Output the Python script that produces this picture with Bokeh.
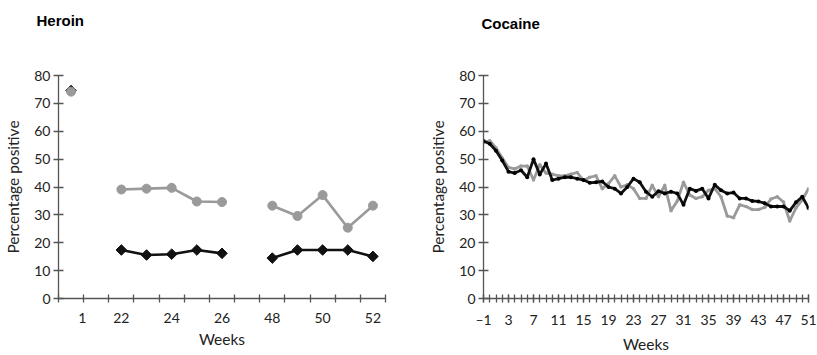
from bokeh.plotting import figure
from bokeh.layouts import row
from bokeh.models import Range1d, FixedTicker, Title
from bokeh.embed import file_html
from bokeh.resources import INLINE

# ---------------- data ----------------
# Heroin panel: x slots (None = empty slot on the axis)
heroin_slots = [1, None, 22, 23, 24, 25, 26, None, 48, 49, 50, 51, 52]
heroin_weeks = [1, 22, 23, 24, 25, 26, 48, 49, 50, 51, 52]
heroin_gray = [74.2, 39.1, 39.4, 39.7, 34.8, 34.6, 33.3, 29.6, 37.1, 25.4, 33.3]
heroin_black = [74.6, 17.4, 15.6, 15.9, 17.4, 16.2, 14.5, 17.4, 17.4, 17.4, 15.1]
heroin_label_weeks = [1, 22, 24, 26, 48, 50, 52]

# Cocaine panel
cocaine_weeks = list(range(-1, 52))
cocaine_black = [56.5, 55.5, 53.0, 49.5, 45.5, 45.0, 46.0, 43.5, 50.0, 44.5,
                 48.4, 42.5, 43.0, 43.5, 43.5, 43.0, 42.5, 41.5, 41.7, 42.0,
                 40.0, 39.4, 37.7, 40.0, 43.0, 41.7, 38.3, 36.5, 38.5, 37.7,
                 38.3, 37.7, 33.6, 39.4, 38.6, 39.4, 35.9, 40.8, 38.8, 37.7,
                 38.0, 35.9, 35.9, 35.0, 34.8, 34.2, 33.0, 33.0, 33.0, 31.5,
                 34.5, 36.5, 32.5]
cocaine_gray = [55.9, 56.6, 54.0, 50.4, 47.0, 46.5, 47.5, 47.5, 42.5, 48.0,
                45.0, 44.6, 44.0, 44.0, 44.6, 45.2, 42.3, 43.5, 44.0, 39.4,
                41.2, 44.0, 40.0, 40.8, 39.4, 35.9, 35.9, 40.6, 36.5, 40.6,
                31.5, 35.0, 41.7, 37.1, 35.9, 36.5, 38.8, 39.4, 36.5, 29.6,
                29.0, 33.6, 33.0, 31.9, 31.9, 32.7, 35.7, 36.5, 34.6, 27.8,
                32.5, 35.4, 39.4]
cocaine_label_weeks = list(range(-1, 52, 4))

y_ticks = list(range(0, 81, 10))

TICK_FONT = "Lato"
AXIS_COLOR = "#555555"
TEXT_COLOR = "#222222"
BLACK = "#111111"
GRAY = "#9a9a9a"


def style_axes(p):
    for ax in (p.xaxis[0], p.yaxis[0]):
        ax.axis_line_color = AXIS_COLOR
        ax.axis_line_width = 1.3
        ax.major_tick_line_color = AXIS_COLOR
        ax.minor_tick_line_color = AXIS_COLOR
        ax.major_tick_line_width = 1.3
        ax.minor_tick_line_width = 1.3
        ax.major_label_text_font = TICK_FONT
        ax.major_label_text_font_size = "14px"
        ax.major_label_text_color = TEXT_COLOR
        ax.axis_label_text_font = TICK_FONT
        ax.axis_label_text_font_size = "15.5px"
        ax.axis_label_text_font_style = "normal"
        ax.axis_label_text_color = TEXT_COLOR
    p.yaxis.ticker = FixedTicker(ticks=y_ticks, minor_ticks=[])
    p.yaxis.major_tick_in = 5
    p.yaxis.major_tick_out = 5
    p.yaxis.major_label_standoff = 3
    p.yaxis.axis_label = "Percentage positive"
    p.yaxis.axis_label_standoff = 9
    p.xaxis.axis_label = "Weeks"
    p.xaxis.axis_label_standoff = 4
    p.xaxis.major_label_standoff = 8
    p.xgrid.visible = False
    p.ygrid.visible = False
    p.outline_line_color = None


def add_title(p, text, dx, gap):
    # an empty spacer panel between the frame and the title lifts the title up
    spacer = Title(text=" ", text_font_size="2px", standoff=gap,
                   text_color="white")
    p.add_layout(spacer, "above")
    t = Title(text=text, align="left", offset=dx,
              text_font="Liberation Sans", text_font_style="bold",
              text_font_size="15px", text_color="#000000",
              vertical_align="bottom", standoff=10)
    p.add_layout(t, "above")


# ---------------- Heroin ----------------
def slot_pos(week):
    return heroin_slots.index(week) + 0.5

hx, hg, hb = [], [], []
prev = None
for w, g, b in zip(heroin_weeks, heroin_gray, heroin_black):
    if prev is not None and w != prev + 1:
        hx.append(float("nan")); hg.append(float("nan")); hb.append(float("nan"))
    hx.append(slot_pos(w)); hg.append(g); hb.append(b)
    prev = w
hmx = [slot_pos(w) for w in heroin_weeks]

p1 = figure(width=410, height=355, output_backend="svg", toolbar_location=None,
            x_range=Range1d(0, len(heroin_slots)), y_range=Range1d(0, 80),
            min_border_left=58, min_border_right=25, min_border_top=75,
            min_border_bottom=50, background_fill_color="white")
p1.line(hx, hb, line_color=BLACK, line_width=2.6)
p1.scatter(hmx, heroin_black, marker="square", angle=0.785, size=7.5,
           fill_color=BLACK, line_color=BLACK)
p1.line(hx, hg, line_color=GRAY, line_width=2.6)
p1.scatter(hmx, heroin_gray, marker="circle", size=9,
           fill_color=GRAY, line_color=GRAY)
label_shift = {1: 0.45}
label_pos = [slot_pos(w) + label_shift.get(w, 0) for w in heroin_label_weeks]
p1.xaxis.ticker = FixedTicker(ticks=label_pos,
                              minor_ticks=list(range(0, len(heroin_slots) + 1)))
p1.xaxis.major_label_overrides = {pos: str(w) for pos, w in zip(label_pos, heroin_label_weeks)}
style_axes(p1)
p1.xaxis.major_tick_line_color = None
p1.xaxis.minor_tick_in = 4
p1.xaxis.minor_tick_out = 4
add_title(p1, "Heroin", -22, 38)

# ---------------- Cocaine ----------------
p2 = figure(width=407, height=355, output_backend="svg", toolbar_location=None,
            x_range=Range1d(-1, 51), y_range=Range1d(0, 80),
            min_border_left=73, min_border_right=9, min_border_top=75,
            min_border_bottom=50, background_fill_color="white")
p2.line(cocaine_weeks, cocaine_gray, line_color=GRAY, line_width=2.8)
p2.scatter(cocaine_weeks, cocaine_gray, marker="circle", size=3.5,
           fill_color=GRAY, line_color=None)
p2.line(cocaine_weeks, cocaine_black, line_color=BLACK, line_width=2.8)
p2.scatter(cocaine_weeks, cocaine_black, marker="circle", size=4,
           fill_color="#000000", line_color=None)
p2.xaxis.ticker = FixedTicker(ticks=cocaine_label_weeks, minor_ticks=cocaine_weeks)
p2.xaxis.major_label_overrides = {w: ("\u2013" + str(-w) if w < 0 else str(w))
                                  for w in cocaine_label_weeks}
style_axes(p2)
p2.xaxis.major_tick_in = 4
p2.xaxis.major_tick_out = 4
p2.xaxis.minor_tick_in = 4
p2.xaxis.minor_tick_out = 4
add_title(p2, "Cocaine", -2, 35)

layout = row(p1, p2)
open("out.html", "w").write(file_html(layout, INLINE))
